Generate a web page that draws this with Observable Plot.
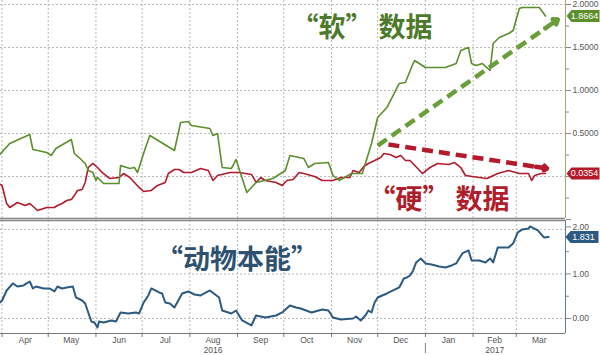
<!DOCTYPE html>
<html><head><meta charset="utf-8">
<script src="https://cdn.jsdelivr.net/npm/d3@7"></script>
<script src="https://cdn.jsdelivr.net/npm/@observablehq/plot@0.6"></script>
<style>
body{margin:0;background:#fff;}
#chart{position:relative;width:600px;height:355px;overflow:hidden;background:#fff;}
#top,#bottom{position:absolute;left:0;}
#top{top:0;}
#bottom{top:220px;}
</style></head><body>
<div id="chart"><div id="top"></div><div id="bottom"></div></div>
<script>
// ---- Data ----
const softDates = ["2016-03-30","2016-04-06","2016-04-19","2016-04-21","2016-04-30","2016-05-03","2016-05-06","2016-05-16","2016-05-18","2016-05-21","2016-05-25","2016-05-27","2016-05-30","2016-06-01","2016-06-02","2016-06-06","2016-06-16","2016-06-17","2016-06-23","2016-06-26","2016-06-28","2016-07-03","2016-07-06","2016-07-22","2016-07-26","2016-07-31","2016-08-02","2016-08-14","2016-08-16","2016-08-19","2016-08-22","2016-08-28","2016-08-31","2016-09-07","2016-09-13","2016-09-24","2016-10-02","2016-10-05","2016-10-14","2016-10-17","2016-10-21","2016-10-30","2016-11-02","2016-11-06","2016-11-14","2016-11-21","2016-11-23","2016-11-27","2016-12-01","2016-12-07","2016-12-10","2016-12-15","2016-12-19","2016-12-24","2016-12-25","2017-01-01","2017-01-14","2017-01-21","2017-01-24","2017-01-29","2017-01-31","2017-02-03","2017-02-07","2017-02-12","2017-02-14","2017-02-18","2017-02-24","2017-02-27","2017-03-03","2017-03-05","2017-03-16","2017-03-20"];
const softValues = [0.245,0.384,0.489,0.314,0.280,0.245,0.326,0.431,0.268,0.221,0.152,0.070,0.047,-0.046,-0.011,-0.081,-0.081,0.128,0.094,0.105,0.047,0.326,0.477,0.303,0.628,0.640,0.594,0.559,0.477,0.500,0.105,0.094,0.198,-0.186,-0.069,-0.023,0.070,0.245,0.210,0.105,0.152,0.163,0.012,-0.046,0.035,0.035,0.152,0.384,0.687,0.803,0.907,1.082,1.094,1.314,1.349,1.268,1.268,1.314,1.466,1.500,1.314,1.291,1.314,1.233,1.547,1.617,1.663,1.698,1.954,1.966,1.966,1.8664];

const hardDates = ["2016-03-30","2016-04-01","2016-04-04","2016-04-06","2016-04-11","2016-04-16","2016-04-19","2016-04-22","2016-04-24","2016-04-30","2016-05-05","2016-05-07","2016-05-10","2016-05-13","2016-05-16","2016-05-18","2016-05-20","2016-05-23","2016-05-25","2016-05-27","2016-05-30","2016-06-02","2016-06-05","2016-06-10","2016-06-16","2016-06-19","2016-06-23","2016-06-29","2016-07-02","2016-07-07","2016-07-11","2016-07-16","2016-07-18","2016-07-22","2016-07-25","2016-07-28","2016-08-02","2016-08-08","2016-08-13","2016-08-16","2016-08-19","2016-08-27","2016-09-02","2016-09-10","2016-09-13","2016-09-16","2016-09-19","2016-09-26","2016-09-30","2016-10-03","2016-10-07","2016-10-11","2016-10-14","2016-10-21","2016-10-26","2016-11-02","2016-11-07","2016-11-13","2016-11-15","2016-11-19","2016-11-22","2016-11-25","2016-11-29","2016-12-03","2016-12-05","2016-12-09","2016-12-13","2016-12-16","2016-12-19","2016-12-22","2016-12-27","2016-12-30","2017-01-04","2017-01-09","2017-01-16","2017-01-20","2017-01-24","2017-01-27","2017-02-05","2017-02-10","2017-02-17","2017-02-24","2017-03-03","2017-03-09","2017-03-11","2017-03-13","2017-03-17","2017-03-20"];
const hardValues = [-0.081,-0.104,-0.314,-0.360,-0.302,-0.337,-0.314,-0.360,-0.395,-0.360,-0.360,-0.337,-0.314,-0.279,-0.267,-0.220,-0.162,-0.151,-0.069,0.105,0.152,0.105,0.047,-0.023,-0.011,0.035,-0.011,-0.127,-0.174,-0.162,-0.104,-0.069,0.035,0.082,0.082,0.047,0.047,0.094,0.070,-0.046,0.012,0.047,0.047,0.024,-0.069,-0.011,-0.046,-0.069,-0.104,-0.046,-0.034,0.047,0.035,0.000,-0.046,-0.046,-0.011,-0.011,0.070,0.047,0.117,0.152,0.187,0.221,0.268,0.256,0.221,0.245,0.187,0.187,0.094,0.035,0.105,0.152,0.140,0.163,0.105,0.012,-0.011,-0.023,0.035,0.070,0.035,0.035,-0.046,0.012,0.035,0.0354];

const spiritDates = ["2016-03-30","2016-04-01","2016-04-04","2016-04-08","2016-04-11","2016-04-15","2016-04-17","2016-04-19","2016-04-21","2016-04-23","2016-04-28","2016-05-02","2016-05-05","2016-05-07","2016-05-10","2016-05-13","2016-05-17","2016-05-19","2016-05-23","2016-05-25","2016-05-27","2016-05-29","2016-05-31","2016-06-02","2016-06-03","2016-06-06","2016-06-11","2016-06-14","2016-06-17","2016-06-22","2016-06-27","2016-06-29","2016-07-02","2016-07-05","2016-07-07","2016-07-12","2016-07-14","2016-07-16","2016-07-19","2016-07-22","2016-07-27","2016-07-31","2016-08-04","2016-08-08","2016-08-14","2016-08-20","2016-08-22","2016-08-28","2016-08-31","2016-09-04","2016-09-10","2016-09-13","2016-09-19","2016-09-26","2016-09-30","2016-10-05","2016-10-09","2016-10-12","2016-10-19","2016-10-26","2016-10-30","2016-11-02","2016-11-07","2016-11-15","2016-11-17","2016-11-20","2016-11-23","2016-11-25","2016-11-27","2016-11-29","2016-12-01","2016-12-04","2016-12-07","2016-12-11","2016-12-15","2016-12-18","2016-12-20","2016-12-22","2016-12-24","2016-12-26","2016-12-29","2017-01-01","2017-01-05","2017-01-10","2017-01-14","2017-01-18","2017-01-21","2017-01-25","2017-01-29","2017-01-31","2017-02-05","2017-02-09","2017-02-12","2017-02-14","2017-02-17","2017-02-24","2017-02-27","2017-03-02","2017-03-05","2017-03-09","2017-03-10","2017-03-15","2017-03-19","2017-03-22"];
const spiritValues = [0.337,0.404,0.629,0.787,0.719,0.742,0.787,0.831,0.674,0.719,0.674,0.674,0.607,0.719,0.674,0.697,0.719,0.472,0.404,0.337,0.135,-0.067,-0.090,-0.202,-0.067,-0.090,-0.045,-0.067,0.135,0.112,0.135,0.112,0.360,0.517,0.674,0.584,0.562,0.360,0.337,0.247,0.562,0.607,0.539,0.517,0.629,0.472,0.180,0.112,0.180,-0.045,-0.157,0.067,0.022,0.067,0.135,0.292,0.247,0.225,0.135,0.202,0.180,0.022,-0.022,0.000,0.045,-0.045,0.067,0.180,0.135,0.360,0.472,0.517,0.562,0.629,0.697,0.899,0.921,0.966,1.079,1.258,1.348,1.236,1.213,1.169,1.146,1.191,1.236,1.461,1.528,1.303,1.303,1.258,1.348,1.258,1.596,1.596,1.685,1.933,2.000,2.022,2.067,1.978,1.820,1.831];

const monthStarts = ["2016-04-01","2016-05-01","2016-06-01","2016-07-01","2016-08-01","2016-09-01","2016-10-01","2016-11-01","2016-12-01","2017-01-01","2017-02-01","2017-03-01"];
const monthLabels = ["Apr","May","Jun","Jul","Aug","Sep","Oct","Nov","Dec","Jan","Feb","Mar"];
const monthMids = ["2016-04-16","2016-05-16","2016-06-16","2016-07-16","2016-08-16","2016-09-16","2016-10-16","2016-11-16","2016-12-16","2017-01-16","2017-02-15","2017-03-16"];
const yearLabels = ["2016","2017"];
const yearMids = ["2016-08-16","2017-02-15"];
const yearBoundary = ["2017-01-01"];

const topTicks = [2, 1.5, 1, 0.5, 0, -0.5];
const topMinorTicks = [1.75, 1.25, 0.75, 0.25, -0.25];
const bottomTopTick = [2];
const bottomTicks = [1, 0];
const bottomMinorTicks = [1.5, 0.5];

const lastLabels = ["1.8664", "0.0354", "1.831"];

// annotations
const annTexts = ["\u201C软\u201D 数据", "\u201C硬\u201D 数据"];
const annDates = ["2016-10-06", "2016-11-25"];
const annValues = [1.72, -0.28];
const spiritText = ["\u201C动物本能\u201D"];
const spiritTextDate = ["2016-07-10"];
const spiritTextValue = [1.30];

const arrowFromDates = ["2016-12-01", "2016-12-08"];
const arrowFromValues = [0.36, 0.373];
const arrowToDates = ["2017-03-28", "2017-03-21"];
const arrowToValues = [1.826, 0.094];

// ---- Build ----
const parse = d3.utcParse("%Y-%m-%d");
const xDomain = [parse("2016-03-31"), parse("2017-04-02")];
const topDomain = [-0.488, 2.047];
const bottomDomain = [-0.337, 2.2];

const GREEN = "#5b8f2c", RED = "#b31b2c", BLUE = "#2c5a80";
const GREEN_TXT = "#4c7a2a", RED_TXT = "#b01d2c", BLUE_TXT = "#2e5170";
const font = "'Liberation Sans', Arial, sans-serif";
const cjk = "'Noto Sans CJK SC', sans-serif";

const series = (ds, vs) => ds.map((d, i) => ({date: parse(d), value: vs[i]}));
const soft = series(softDates, softValues);
const hard = series(hardDates, hardValues);
const spirit = series(spiritDates, spiritValues);

const grid = {stroke: "#b8b8b8", strokeDasharray: "2,2", strokeWidth: 1};
const flag = {draw(ctx) { ctx.moveTo(0, 0); ctx.lineTo(5, -6); ctx.lineTo(33, -6); ctx.lineTo(33, 6); ctx.lineTo(5, 6); ctx.closePath(); }};

const arrows = arrowFromDates.map((d, i) => {
  const x1 = parse(d), x2 = parse(arrowToDates[i]);
  const y1 = arrowFromValues[i], y2 = arrowToValues[i];
  const t = 0.93;
  return {x1, y1, x2, y2, xm: new Date(+x1 + (x2 - x1) * t), ym: y1 + (y2 - y1) * t, c: i === 0 ? "#6b9e3a" : RED};
});

const fmt4 = v => (v === 0 || v < 0) ? "" : d3.format(".4f")(v);

const topChart = Plot.plot({
  width: 600, height: 220,
  marginLeft: 0, marginRight: 35, marginTop: 0, marginBottom: 2,
  x: {type: "utc", domain: xDomain, axis: null},
  y: {domain: topDomain, label: null},
  style: {fontFamily: font, fontSize: "8.5px", color: "#555", background: "transparent", overflow: "visible"},
  marks: [
    Plot.ruleX(monthStarts.map(parse), grid),
    Plot.ruleY([2, 1.5, 1, 0.5, 0], grid),
    Plot.line(hard, {x: "date", y: "value", stroke: RED, strokeWidth: 1.6}),
    Plot.line(soft, {x: "date", y: "value", stroke: GREEN, strokeWidth: 1.6}),
    Plot.link(arrows, {x1: "x1", y1: "y1", x2: "xm", y2: "ym", stroke: "c", strokeWidth: 4.5, strokeDasharray: "11,6"}),
    Plot.arrow(arrows, {x1: "xm", y1: "ym", x2: "x2", y2: "y2", stroke: "c", strokeWidth: 4.5, headLength: 12, headAngle: 75}),
    Plot.text(annTexts, {x: (d, i) => parse(annDates[i]), y: (d, i) => annValues[i], text: d => d,
      textAnchor: "start", fill: (d, i) => i === 0 ? GREEN_TXT : RED_TXT,
      fontFamily: cjk, fontSize: 27, fontWeight: "bold"}),
    Plot.ruleY([topDomain[0]], {stroke: "#888", strokeWidth: 1.5}),
    Plot.ruleX([xDomain[1]], {stroke: "#a5aa6c", strokeWidth: 1}),
    Plot.axisY({anchor: "right", ticks: topMinorTicks, tickSize: 3, tickFormat: () => "", stroke: "#888", label: null}),
    Plot.axisY({anchor: "right", ticks: topTicks, tickSize: 5, tickPadding: 2, tickFormat: fmt4, stroke: "#888", fill: "#555", label: null}),
    Plot.dot([softValues[softValues.length - 1]], {y: d => d, frameAnchor: "right", dx: 1, symbol: flag, fill: GREEN, stroke: "none"}),
    Plot.dot([hardValues[hardValues.length - 1]], {y: d => d, frameAnchor: "right", dx: 1, symbol: flag, fill: RED, stroke: "none"}),
    Plot.text([lastLabels[0]], {y: () => softValues[softValues.length - 1], text: d => d, frameAnchor: "right", dx: 19, textAnchor: "middle", fill: "white", fontSize: 9}),
    Plot.text([lastLabels[1]], {y: () => hardValues[hardValues.length - 1], text: d => d, frameAnchor: "right", dx: 19, textAnchor: "middle", fill: "white", fontSize: 9})
  ]
});
document.getElementById("top").appendChild(topChart);

const bottomChart = Plot.plot({
  width: 600, height: 135,
  marginLeft: 0, marginRight: 35, marginTop: 0, marginBottom: 22,
  x: {type: "utc", domain: xDomain, label: null},
  y: {domain: bottomDomain, label: null},
  style: {fontFamily: font, fontSize: "8.5px", color: "#555", background: "transparent", overflow: "visible"},
  marks: [
    Plot.ruleX(monthStarts.map(parse), grid),
    Plot.ruleY([...bottomTopTick, ...bottomTicks], grid),
    Plot.line(spirit, {x: "date", y: "value", stroke: BLUE, strokeWidth: 2}),
    Plot.text(spiritText, {x: (d, i) => parse(spiritTextDate[i]), y: (d, i) => spiritTextValue[i], text: d => d,
      textAnchor: "start", fill: BLUE_TXT, fontFamily: cjk, fontSize: 27, fontWeight: "bold"}),
    Plot.ruleY([bottomDomain[1]], {stroke: "#888", strokeWidth: 1.5}),
    Plot.ruleY([bottomDomain[0]], {stroke: "#777", strokeWidth: 1}),
    Plot.ruleX([xDomain[1]], {stroke: "#5b7d9c", strokeWidth: 1}),
    Plot.axisY({anchor: "right", ticks: bottomMinorTicks, tickSize: 3, tickFormat: () => "", stroke: "#888", label: null}),
    Plot.axisY({anchor: "right", ticks: bottomTicks, tickSize: 5, tickPadding: 2, tickFormat: d3.format(".2f"), stroke: "#888", fill: "#555", label: null}),
    Plot.axisY({anchor: "right", ticks: bottomTopTick, tickSize: 5, tickPadding: 2, tickFormat: d3.format(".2f"), stroke: "#888", fill: "#555", label: null, dy: -2.5}),
    Plot.axisX({ticks: monthStarts.map(parse), tickSize: 4, tickFormat: () => "", stroke: "#777", label: null}),
    Plot.axisX({ticks: yearBoundary.map(parse), tickSize: 20, tickFormat: () => "", stroke: "#888", strokeDasharray: "0,10,10", label: null}),
    Plot.text(monthLabels, {x: (d, i) => parse(monthMids[i]), text: d => d, frameAnchor: "bottom", dy: 7, lineAnchor: "middle", fill: "#555", fontSize: 8.5}),
    Plot.text(yearLabels, {x: (d, i) => parse(yearMids[i]), text: d => d, frameAnchor: "bottom", dy: 17, lineAnchor: "middle", fill: "#555", fontSize: 8.5}),
    Plot.dot([spiritValues[spiritValues.length - 1]], {y: d => d, frameAnchor: "right", dx: 0, symbol: flag, fill: BLUE, stroke: "none"}),
    Plot.text([lastLabels[2]], {y: () => spiritValues[spiritValues.length - 1], text: d => d, frameAnchor: "right", dx: 18, textAnchor: "middle", fill: "white", fontSize: 9})
  ]
});
document.getElementById("bottom").appendChild(bottomChart);
</script>
</body></html>
